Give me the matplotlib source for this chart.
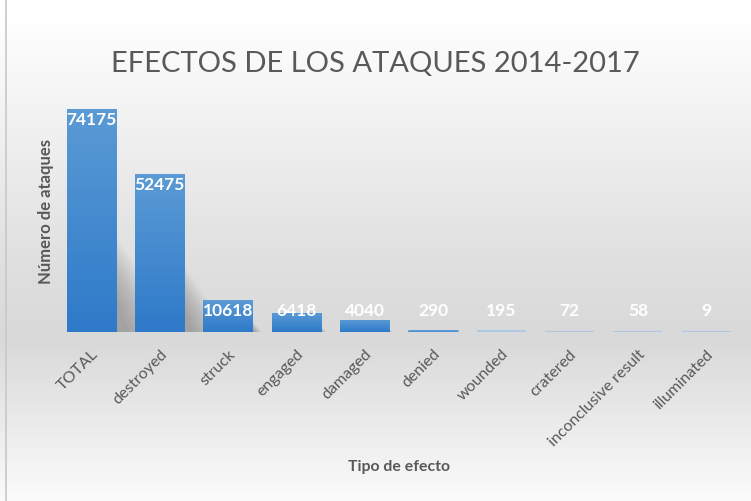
import numpy as np
import matplotlib
matplotlib.use("Agg")
import matplotlib.pyplot as plt
from matplotlib.colors import LinearSegmentedColormap
from matplotlib.patches import Polygon

plt.rcParams['font.family'] = ['Lato', 'DejaVu Sans']

efectos = ["TOTAL", "destroyed", "struck", "engaged", "damaged", "denied",
           "wounded", "cratered", "inconclusive result", "illuminated"]
ataques = [74175, 52475, 10618, 6418, 4040, 290, 195, 72, 58, 9]

titulo = "EFECTOS DE LOS ATAQUES 2014-2017"
gris = "#595959"

fig = plt.figure(figsize=(7.51, 5.01), dpi=100)

# fondo degradado de la figura
bg = fig.add_axes([0, 0, 1, 1], zorder=-10)
bg_cmap = LinearSegmentedColormap.from_list(
    "bg", [(0.0, "#fbfbfb"), (0.32, "#d9d9d9"), (0.45, "#dedede"), (0.97, "#ffffff"), (1.0, "#ffffff")])
grad = np.linspace(1, 0, 256).reshape(-1, 1)
bg.imshow(grad, aspect="auto", cmap=bg_cmap, extent=[0, 1, 0, 1], vmin=0, vmax=1)
bg.plot([0.008, 0.008], [0, 1], color="#c8c8c8", lw=1.2)
bg.set_xlim(0, 1)
bg.set_ylim(0, 1)
bg.axis("off")

ax = fig.add_axes([0.0763, 0.3373, 0.9095, 0.480])
ax.patch.set_alpha(0)
ax.set_xlim(-0.5, len(efectos) - 0.5)
ax.set_ylim(0, 80000)
x = np.arange(len(efectos))

bar_w = 0.72
bars = ax.bar(x, ataques, width=bar_w, color="#3f87d0", lw=0, zorder=3)

# las barras casi planas se ven como una raya fina
for b in bars:
    h = b.get_height()
    if h >= 1000:
        continue
    col = "#4d93d6" if h >= 250 else "#b0c9e2"
    ax.hlines(h, b.get_x(), b.get_x() + b.get_width(), colors=col,
              lw=2.0 if h >= 250 else 1.6, zorder=3)

# sombra difusa a la derecha de las barras grandes
u_px = bar_w / 49.0          # unidades x por pixel
v_px = 80000 / 240.5         # unidades y por pixel
for b in bars:
    h = b.get_height()
    hp = h / v_px
    if hp < 10:
        continue
    xr = b.get_x() + b.get_width()
    for k in range(10):
        g = k * 0.025 * hp
        tri = [(xr - 0.05, 0), (xr - 0.05, (0.22 * hp + g) * v_px),
               (xr + (0.06 * hp + g) * u_px, 0)]
        ax.add_patch(Polygon(tri, closed=True, color="#202020", alpha=0.03,
                             lw=0, zorder=2))

# degradado dentro de cada barra
bar_cmap = LinearSegmentedColormap.from_list("bar", ["#2e7ac9", "#5b9bd5"])
for b in bars:
    h = b.get_height()
    if h < 1000:
        continue
    im = ax.imshow(np.linspace(0, 1, 64).reshape(-1, 1), origin="lower", aspect="auto",
                   cmap=bar_cmap, extent=[b.get_x(), b.get_x() + b.get_width(), 0, h], zorder=4)
    im.set_clip_path(b)

for xi, v in zip(x, ataques):
    ax.text(xi, max(v - 3660, 6985), str(v), ha="center", va="center",
            color="white", fontsize=12.5, fontweight="bold", zorder=5)

ax.set_xticks(x)
ax.set_xticklabels(efectos, rotation=45, ha="right", rotation_mode="anchor",
                   color=gris, fontsize=11.5)
ax.tick_params(axis="x", length=0, pad=11)
ax.set_yticks([])
for s in ax.spines.values():
    s.set_visible(False)

fig.text(0.500, 0.873, titulo, ha="center", va="center", color=gris, fontsize=21)
fig.text(0.061, 0.577, "Número de ataques", rotation=90, ha="center", va="center",
         color=gris, fontsize=12, fontweight="bold")
fig.text(0.531, 0.068, "Tipo de efecto", ha="center", va="center",
         color=gris, fontsize=11.4, fontweight="bold")

fig.savefig("out.png", dpi=100)
